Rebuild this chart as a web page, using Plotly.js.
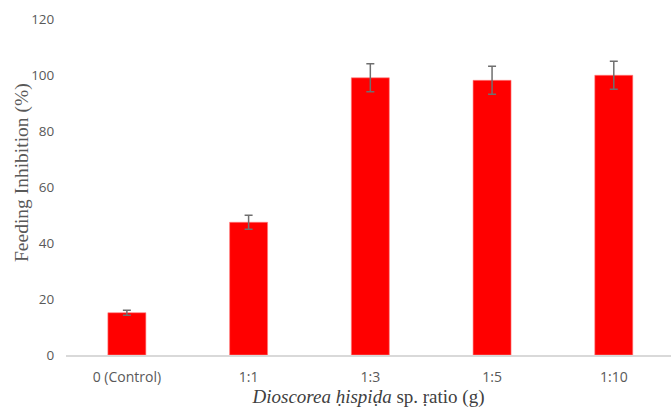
<!DOCTYPE html>
<html>
<head>
<meta charset="utf-8">
<script src="https://cdn.plot.ly/plotly-3.0.1.min.js"></script>
<style>html,body{margin:0;padding:0;background:#fff;}#chart{width:671px;height:409px;}</style>
</head>
<body>
<div id="chart"></div>
<script>
const categories = ["0 (Control)", "1:1", "1:3", "1:5", "1:10"];
const inhibition = [15.1, 47.4, 99.0, 98.1, 99.9];
const errors = [0.9, 2.5, 5.0, 5.0, 5.0];
const yTicks = [0, 20, 40, 60, 80, 100, 120];
const yTitle = "Feeding Inhibition (%)";
const xTitle = "<i>Dioscorea ḥispiḍa</i> sp. ṛatio (g)";

const trace = {
  type: "bar",
  x: categories,
  y: inhibition,
  marker: {color: "#ff0000", line: {color: "#ff8080", width: 0.6}},
  error_y: {type: "data", array: errors, visible: true, color: "#6f6f6f", thickness: 1.5, width: 4},
  hoverinfo: "none"
};

const L = 66, T = 19, B = 54, W = 671, H = 409;
const plotW = W - L, plotH = H - T - B;

const layout = {
  width: W, height: H,
  margin: {l: L, r: 0, t: T, b: B},
  paper_bgcolor: "#ffffff", plot_bgcolor: "#ffffff",
  showlegend: false,
  bargap: 0.688,
  xaxis: {
    type: "category",
    range: [-0.5, 4.47],
    showgrid: false, zeroline: false,
    showline: true, linecolor: "#d9d9d9", linewidth: 1.5,
    ticks: "outside", ticklen: 9, tickcolor: "rgba(0,0,0,0)",
    tickfont: {family: "Open Sans, Liberation Sans, sans-serif", size: 14, color: "#595959"},
    title: {text: xTitle, standoff: 3,
            font: {family: "Liberation Serif, serif", size: 19, color: "#404040"}}
  },
  yaxis: {
    range: [0, 120],
    tickvals: yTicks,
    showgrid: false, zeroline: false, showline: false,
    ticks: "outside", ticklen: 8, tickcolor: "rgba(0,0,0,0)",
    tickfont: {family: "Open Sans, Liberation Sans, sans-serif", size: 13.5, color: "#595959"}
  },
  annotations: [{
    text: yTitle, textangle: -90, showarrow: false,
    xref: "paper", yref: "paper",
    x: (22 - L) / plotW, y: (H - B - 173) / plotH,
    xanchor: "center", yanchor: "middle",
    font: {family: "Liberation Serif, serif", size: 19.5, color: "#595959"}
  }]
};

Plotly.newPlot("chart", [trace], layout, {displayModeBar: false, staticPlot: true});
</script>
</body>
</html>
